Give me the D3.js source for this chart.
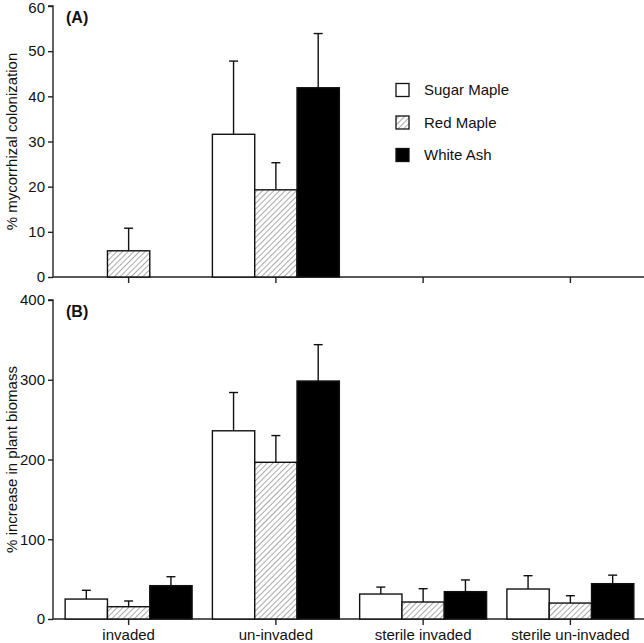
<!DOCTYPE html>
<html><head><meta charset="utf-8">
<script src="https://cdn.jsdelivr.net/npm/d3@7"></script>
<style>body{margin:0;background:#fff}svg{display:block}</style>
</head><body>
<svg id="c" width="644" height="643"></svg>
<script>
const categories = ["invaded", "un-invaded", "sterile invaded", "sterile un-invaded"];
const species = ["Sugar Maple", "Red Maple", "White Ash"];
// Panel A: % mycorrhizal colonization (null = no bar)
const colonSugar = [null, 31.6, null, null];
const colonRed   = [5.8, 19.3, null, null];
const colonWhite = [null, 41.9, null, null];
const colonSugarErr = [null, 47.8, null, null];
const colonRedErr   = [10.8, 25.3, null, null];
const colonWhiteErr = [null, 53.9, null, null];
// Panel B: % increase in plant biomass
const bioSugar = [25, 236, 31.3, 37.6];
const bioRed   = [15.4, 196.5, 21.3, 20];
const bioWhite = [41.8, 298.4, 34.3, 44.3];
const bioSugarErr = [36, 284, 40, 54.3];
const bioRedErr   = [22.6, 230, 38, 29.2];
const bioWhiteErr = [53, 344, 49, 55];
const ticksA = [0, 10, 20, 30, 40, 50, 60];
const ticksB = [0, 100, 200, 300, 400];

const svg = d3.select("#c");
const font = "Liberation Sans, Arial, sans-serif";
const defs = svg.append("defs");
const pat = defs.append("pattern").attr("id","hatch").attr("patternUnits","userSpaceOnUse")
  .attr("width",4).attr("height",4).attr("patternTransform","rotate(45)");
pat.append("rect").attr("width",4).attr("height",4).attr("fill","#fff");
pat.append("line").attr("x1",0).attr("y1",0).attr("x2",0).attr("y2",4)
  .attr("stroke","#555").attr("stroke-width",1);
const fills = {"Sugar Maple":"#fff","Red Maple":"url(#hatch)","White Ash":"#000"};

const x = d3.scaleBand().domain(categories).range([55, 644]).padding(0);
const xs = d3.scaleBand().domain(species).range([0, x.bandwidth()]).paddingInner(0).paddingOuter(0.24);

function panel(y, ticks, vals, errs, label, ylabel, showX) {
  const g = svg.append("g");
  const yAxis = d3.axisLeft(y).tickValues(ticks).tickSize(5).tickPadding(3).tickFormat(d3.format("d"));
  const ya = g.append("g").attr("transform","translate(53,0)").call(yAxis);
  ya.select(".domain").attr("d", `M-5,${y(ticks[ticks.length-1])}H0V${y(0)}`);
  ya.selectAll("text").attr("font-size",15).attr("font-family",font).attr("fill","#111")
    .attr("dy", d => y(d) < 10 ? "0.42em" : "0.32em");
  ya.selectAll("line,path").attr("stroke","#222").attr("stroke-width",1.4);
  const xAxis = d3.axisBottom(x).tickSize(6).tickPadding(4).tickFormat(showX ? d=>d : ()=>"");
  const xa = g.append("g").attr("transform",`translate(0,${y(0)})`).call(xAxis);
  xa.select(".domain").attr("d", `M53,0H644`);
  xa.selectAll("line,path").attr("stroke","#222").attr("stroke-width",1.4);
  xa.selectAll("text").attr("font-size",15).attr("font-family",font).attr("fill","#111")
    .attr("y",21).attr("dy",0);
  species.forEach((s, si) => {
    categories.forEach((c, ci) => {
      const v = vals[si][ci];
      if (v == null) return;
      const x0 = x(c) + xs(s);
      const bw = xs.bandwidth();
      const e = errs[si][ci];
      const cx = x0 + bw/2;
      g.append("line").attr("x1",cx).attr("x2",cx).attr("y1",y(v)).attr("y2",y(e))
        .attr("stroke","#111").attr("stroke-width",1.4);
      g.append("line").attr("x1",cx-4.5).attr("x2",cx+4.5).attr("y1",y(e)).attr("y2",y(e))
        .attr("stroke","#111").attr("stroke-width",1.4);
      g.append("rect").attr("x",x0).attr("y",y(v)).attr("width",bw).attr("height",y(0)-y(v))
        .attr("fill",fills[s]).attr("stroke","#111").attr("stroke-width",1.4);
    });
  });
  g.append("text").attr("x",66).attr("y",y(ticks[ticks.length-1])+17).text(label)
    .attr("font-size",16).attr("font-weight","bold").attr("font-family",font).attr("fill","#111");
  const mid = (y(0)+y(ticks[ticks.length-1]))/2;
  g.append("text").attr("transform",`translate(12,${mid}) rotate(-90)`).attr("text-anchor","middle")
    .attr("dy","0.35em").text(ylabel).attr("font-size",15).attr("font-family",font).attr("fill","#111");
}

const yA = d3.scaleLinear().domain([0,60]).range([277,6]);
const yB = d3.scaleLinear().domain([0,400]).range([619,300]);
panel(yA, ticksA, [colonSugar, colonRed, colonWhite], [colonSugarErr, colonRedErr, colonWhiteErr], "(A)", "% mycorrhizal colonization", false);
panel(yB, ticksB, [bioSugar, bioRed, bioWhite], [bioSugarErr, bioRedErr, bioWhiteErr], "(B)", "% increase in plant biomass", true);

// legend
const lg = svg.append("g");
species.forEach((s, i) => {
  const cy = 90 + i*32.5;
  lg.append("rect").attr("x",396).attr("y",cy-6.5).attr("width",13).attr("height",13)
    .attr("fill",fills[s]).attr("stroke","#111").attr("stroke-width",1.3);
  lg.append("text").attr("x",424).attr("y",cy).attr("dy","0.35em").text(s)
    .attr("font-size",15).attr("font-family",font).attr("fill","#111");
});
</script>
</body></html>
